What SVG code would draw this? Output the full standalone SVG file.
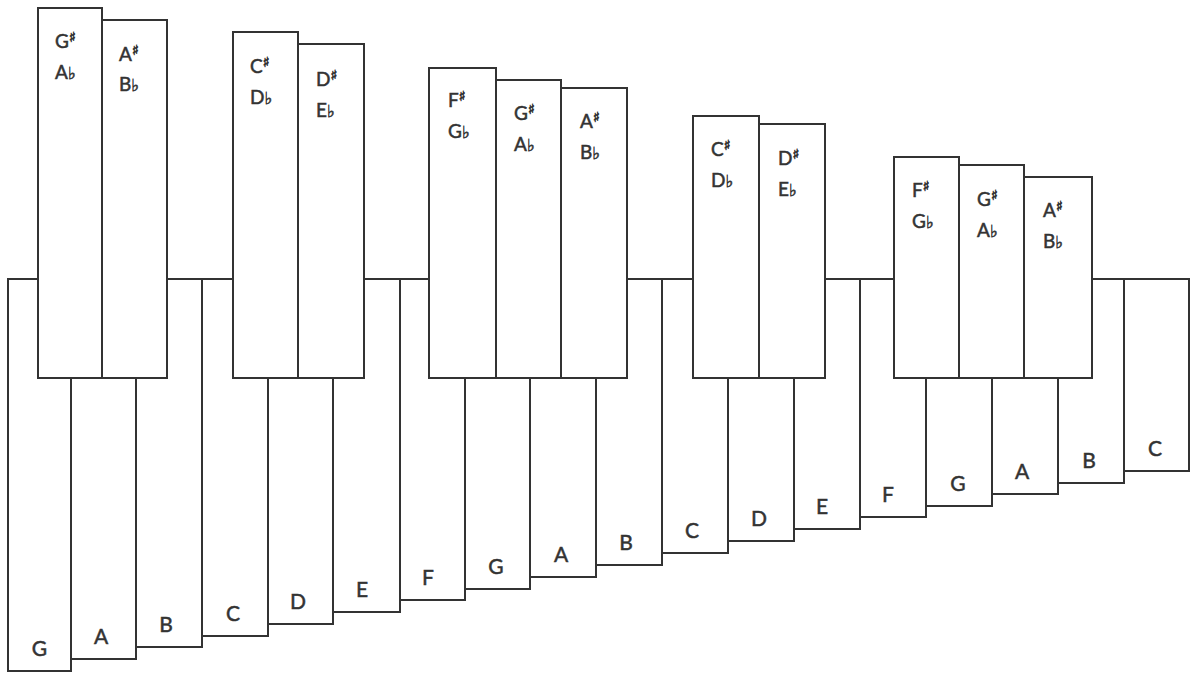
<svg xmlns="http://www.w3.org/2000/svg" width="1192" height="673" viewBox="0 0 1192 673">
<style>
.bar{fill:#fff;stroke:#333;stroke-width:2}
.nat{font-family:Lato,"Open Sans","Liberation Sans",sans-serif;font-size:21px;fill:#333;stroke:#333;stroke-width:0.5;text-anchor:middle}
.acc{font-family:Lato,"Open Sans","Liberation Sans",sans-serif;font-size:19px;fill:#333;stroke:#333;stroke-width:0.5}
.sh{font-family:"DejaVu Sans",sans-serif;font-size:14px;stroke-width:0.7}
.fl{font-family:"DejaVu Sans",sans-serif;font-size:17px}
</style>
<rect width="1192" height="673" fill="#fff"/>
<g id="naturals">
<g id="n1"><rect class="bar" x="8" y="279" width="63" height="392"/><text class="nat" x="39.5" y="656">G</text></g>
<g id="n2"><rect class="bar" x="71" y="279" width="65" height="380"/><text class="nat" x="101" y="644">A</text></g>
<g id="n3"><rect class="bar" x="136" y="279" width="66" height="368"/><text class="nat" x="166" y="632">B</text></g>
<g id="n4"><rect class="bar" x="202" y="279" width="66" height="357"/><text class="nat" x="233" y="621">C</text></g>
<g id="n5"><rect class="bar" x="268" y="279" width="65" height="345"/><text class="nat" x="298" y="609">D</text></g>
<g id="n6"><rect class="bar" x="333" y="279" width="67" height="333"/><text class="nat" x="362" y="597">E</text></g>
<g id="n7"><rect class="bar" x="400" y="279" width="65" height="321"/><text class="nat" x="428" y="585">F</text></g>
<g id="n8"><rect class="bar" x="465" y="279" width="65" height="310"/><text class="nat" x="496" y="574">G</text></g>
<g id="n9"><rect class="bar" x="530" y="279" width="66" height="298"/><text class="nat" x="561" y="562">A</text></g>
<g id="n10"><rect class="bar" x="596" y="279" width="66" height="286"/><text class="nat" x="626" y="550">B</text></g>
<g id="n11"><rect class="bar" x="662" y="279" width="66" height="274"/><text class="nat" x="692" y="538">C</text></g>
<g id="n12"><rect class="bar" x="728" y="279" width="66" height="262"/><text class="nat" x="759" y="526">D</text></g>
<g id="n13"><rect class="bar" x="794" y="279" width="66" height="250"/><text class="nat" x="822" y="514">E</text></g>
<g id="n14"><rect class="bar" x="860" y="279" width="66" height="238"/><text class="nat" x="888" y="502">F</text></g>
<g id="n15"><rect class="bar" x="926" y="279" width="66" height="227"/><text class="nat" x="958" y="491">G</text></g>
<g id="n16"><rect class="bar" x="992" y="279" width="66" height="215"/><text class="nat" x="1022" y="479">A</text></g>
<g id="n17"><rect class="bar" x="1058" y="279" width="66" height="204"/><text class="nat" x="1089" y="468">B</text></g>
<g id="n18"><rect class="bar" x="1124" y="279" width="65" height="192"/><text class="nat" x="1155" y="456">C</text></g>
</g>
<g id="accidentals">
<g id="s1"><rect class="bar" x="38" y="8" width="64" height="370"/><text class="acc" x="55" y="48">G<tspan class="sh" dy="-6">♯</tspan></text><text class="acc" x="55" y="79">A<tspan class="fl">♭</tspan></text></g>
<g id="s2"><rect class="bar" x="102" y="20" width="65" height="358"/><text class="acc" x="119" y="61">A<tspan class="sh" dy="-6">♯</tspan></text><text class="acc" x="119" y="91">B<tspan class="fl">♭</tspan></text></g>
<g id="s3"><rect class="bar" x="233" y="32" width="65" height="346"/><text class="acc" x="250" y="73">C<tspan class="sh" dy="-6">♯</tspan></text><text class="acc" x="250" y="104">D<tspan class="fl">♭</tspan></text></g>
<g id="s4"><rect class="bar" x="298" y="44" width="66" height="334"/><text class="acc" x="316" y="86">D<tspan class="sh" dy="-6">♯</tspan></text><text class="acc" x="316" y="117">E<tspan class="fl">♭</tspan></text></g>
<g id="s5"><rect class="bar" x="429" y="68" width="67" height="310"/><text class="acc" x="448" y="107">F<tspan class="sh" dy="-6">♯</tspan></text><text class="acc" x="448" y="138">G<tspan class="fl">♭</tspan></text></g>
<g id="s6"><rect class="bar" x="496" y="80" width="65" height="298"/><text class="acc" x="514" y="120">G<tspan class="sh" dy="-6">♯</tspan></text><text class="acc" x="514" y="151">A<tspan class="fl">♭</tspan></text></g>
<g id="s7"><rect class="bar" x="561" y="88" width="66" height="290"/><text class="acc" x="580" y="128">A<tspan class="sh" dy="-6">♯</tspan></text><text class="acc" x="580" y="159">B<tspan class="fl">♭</tspan></text></g>
<g id="s8"><rect class="bar" x="693" y="116" width="66" height="262"/><text class="acc" x="711" y="156">C<tspan class="sh" dy="-6">♯</tspan></text><text class="acc" x="711" y="187">D<tspan class="fl">♭</tspan></text></g>
<g id="s9"><rect class="bar" x="759" y="124" width="66" height="254"/><text class="acc" x="778" y="165">D<tspan class="sh" dy="-6">♯</tspan></text><text class="acc" x="778" y="196">E<tspan class="fl">♭</tspan></text></g>
<g id="s10"><rect class="bar" x="894" y="157" width="65" height="221"/><text class="acc" x="912" y="197">F<tspan class="sh" dy="-6">♯</tspan></text><text class="acc" x="912" y="228">G<tspan class="fl">♭</tspan></text></g>
<g id="s11"><rect class="bar" x="959" y="165" width="65" height="213"/><text class="acc" x="977" y="206">G<tspan class="sh" dy="-6">♯</tspan></text><text class="acc" x="977" y="237">A<tspan class="fl">♭</tspan></text></g>
<g id="s12"><rect class="bar" x="1024" y="177" width="68" height="201"/><text class="acc" x="1043" y="217">A<tspan class="sh" dy="-6">♯</tspan></text><text class="acc" x="1043" y="248">B<tspan class="fl">♭</tspan></text></g>
</g>
</svg>
